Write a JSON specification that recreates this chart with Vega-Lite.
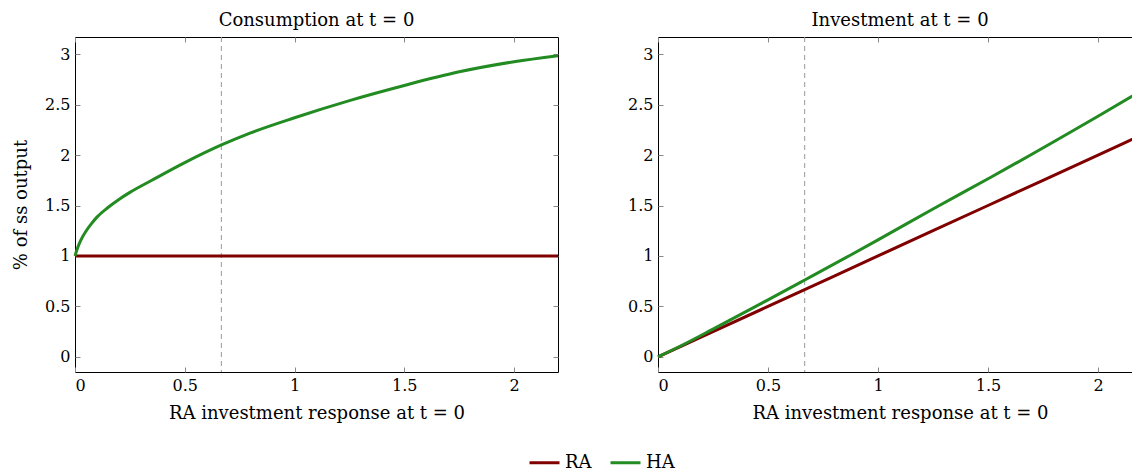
{
  "$schema": "https://vega.github.io/schema/vega-lite/v6.json",
  "padding": {"left": 12, "top": 11, "right": 0, "bottom": 0},
  "config": {
    "font": "DejaVu Serif",
    "view": {"stroke": "black", "strokeWidth": 1},
    "axis": {
      "grid": false, "domain": false, "tickColor": "#888888", "tickSize": -5,
      "labelFontSize": 16, "labelColor": "black", "labelPadding": 10,
      "titleFontSize": 18, "titleFontWeight": "normal", "titleColor": "black"
    },
    "axisX": {"titlePadding": 11},
    "axisY": {"titlePadding": 14},
    "title": {"fontSize": 18, "fontWeight": "normal", "offset": 7, "color": "black"},
    "legend": {"symbolType": "stroke", "symbolStrokeWidth": 3, "symbolSize": 900, "labelFontSize": 18, "labelColor": "black", "columnPadding": 12}
  },
  "spacing": 62,
  "resolve": {"scale": {"color": "shared"}},
  "hconcat": [
    {
      "width": 483, "height": 335,
      "title": {"text": "Consumption at t = 0"},
      "resolve": {"axis": {"x": "independent", "y": "independent"}},
      "layer": [
        {
          "data": {"values": [{"x": 0.6667}]},
          "mark": {"type": "rule", "color": "#999999", "strokeDash": [5, 4], "strokeWidth": 1},
          "encoding": {"x": {"field": "x", "type": "quantitative", "scale": {"domain": [0, 2.2], "nice": false, "zero": false}, "axis": null}}
        },
        {
          "data": {"values": [
            {"x": 0, "y": 1, "series": "RA"}, {"x": 0.5, "y": 1, "series": "RA"}, {"x": 1, "y": 1, "series": "RA"}, {"x": 1.5, "y": 1, "series": "RA"}, {"x": 2, "y": 1, "series": "RA"}, {"x": 2.2, "y": 1, "series": "RA"},
            {"x": 0, "y": 1.0, "series": "HA"}, {"x": 0.01, "y": 1.07, "series": "HA"}, {"x": 0.025, "y": 1.15, "series": "HA"}, {"x": 0.05, "y": 1.245, "series": "HA"},
            {"x": 0.075, "y": 1.32, "series": "HA"}, {"x": 0.1, "y": 1.385, "series": "HA"}, {"x": 0.15, "y": 1.48, "series": "HA"}, {"x": 0.2, "y": 1.56, "series": "HA"},
            {"x": 0.25, "y": 1.63, "series": "HA"}, {"x": 0.35, "y": 1.75, "series": "HA"}, {"x": 0.5, "y": 1.925, "series": "HA"}, {"x": 0.667, "y": 2.1, "series": "HA"},
            {"x": 0.8, "y": 2.22, "series": "HA"}, {"x": 1.0, "y": 2.37, "series": "HA"}, {"x": 1.25, "y": 2.54, "series": "HA"}, {"x": 1.5, "y": 2.69, "series": "HA"},
            {"x": 1.75, "y": 2.825, "series": "HA"}, {"x": 2.0, "y": 2.925, "series": "HA"}, {"x": 2.2, "y": 2.985, "series": "HA"}
          ]},
          "mark": {"type": "line", "strokeWidth": 3, "interpolate": "monotone"},
          "encoding": {
            "x": {"field": "x", "type": "quantitative", "scale": {"domain": [0, 2.2], "nice": false, "zero": false}, "axis": {"values": [0, 0.5, 1, 1.5, 2], "format": "~g", "title": "RA investment response at t = 0"}},
            "y": {"field": "y", "type": "quantitative", "scale": {"domain": [-0.15, 3.17], "nice": false, "zero": false}, "axis": {"values": [0, 0.5, 1, 1.5, 2, 2.5, 3], "format": "~g", "title": "% of ss output"}},
            "color": {"field": "series", "type": "nominal", "scale": {"domain": ["RA", "HA"], "range": ["#800000", "#228B22"]}, "legend": {"orient": "none", "direction": "horizontal", "title": null, "legendX": 453, "legendY": 409}}
          }
        },
        {
          "data": {"values": [{"x": 0, "y": 0}]},
          "mark": {"type": "point", "opacity": 0},
          "encoding": {
            "x": {"field": "x", "type": "quantitative", "scale": {"domain": [0, 2.2], "nice": false, "zero": false}, "axis": {"orient": "top", "values": [0, 0.5, 1, 1.5, 2], "labels": false, "title": null}},
            "y": {"field": "y", "type": "quantitative", "scale": {"domain": [-0.15, 3.17], "nice": false, "zero": false}, "axis": {"orient": "right", "values": [0, 0.5, 1, 1.5, 2, 2.5, 3], "labels": false, "title": null}}
          }
        }
      ]
    },
    {
      "width": 484, "height": 335,
      "title": {"text": "Investment at t = 0"},
      "resolve": {"axis": {"x": "independent", "y": "independent"}},
      "layer": [
        {
          "data": {"values": [{"x": 0.6667}]},
          "mark": {"type": "rule", "color": "#999999", "strokeDash": [5, 4], "strokeWidth": 1},
          "encoding": {"x": {"field": "x", "type": "quantitative", "scale": {"domain": [0, 2.2], "nice": false, "zero": false}, "axis": null}}
        },
        {
          "data": {"values": [
            {"x": 0, "y": 0, "series": "RA"}, {"x": 0.5, "y": 0.5, "series": "RA"}, {"x": 1, "y": 1, "series": "RA"}, {"x": 1.5, "y": 1.5, "series": "RA"}, {"x": 2, "y": 2, "series": "RA"}, {"x": 2.2, "y": 2.2, "series": "RA"},
            {"x": 0, "y": 0, "series": "HA"}, {"x": 0.1, "y": 0.105, "series": "HA"}, {"x": 0.25, "y": 0.275, "series": "HA"}, {"x": 0.5, "y": 0.565, "series": "HA"},
            {"x": 0.667, "y": 0.762, "series": "HA"}, {"x": 0.876, "y": 1.01, "series": "HA"}, {"x": 1.0, "y": 1.16, "series": "HA"}, {"x": 1.25, "y": 1.466, "series": "HA"},
            {"x": 1.517, "y": 1.785, "series": "HA"}, {"x": 2.0, "y": 2.385, "series": "HA"}, {"x": 2.2, "y": 2.64, "series": "HA"}
          ]},
          "mark": {"type": "line", "strokeWidth": 3, "interpolate": "monotone"},
          "encoding": {
            "x": {"field": "x", "type": "quantitative", "scale": {"domain": [0, 2.2], "nice": false, "zero": false}, "axis": {"values": [0, 0.5, 1, 1.5, 2], "format": "~g", "title": "RA investment response at t = 0"}},
            "y": {"field": "y", "type": "quantitative", "scale": {"domain": [-0.15, 3.17], "nice": false, "zero": false}, "axis": {"values": [0, 0.5, 1, 1.5, 2, 2.5, 3], "format": "~g", "title": null}},
            "color": {"field": "series", "type": "nominal", "scale": {"domain": ["RA", "HA"], "range": ["#800000", "#228B22"]}, "legend": {"orient": "none", "direction": "horizontal", "title": null, "legendX": 453, "legendY": 409}}
          }
        },
        {
          "data": {"values": [{"x": 0, "y": 0}]},
          "mark": {"type": "point", "opacity": 0},
          "encoding": {
            "x": {"field": "x", "type": "quantitative", "scale": {"domain": [0, 2.2], "nice": false, "zero": false}, "axis": {"orient": "top", "values": [0, 0.5, 1, 1.5, 2], "labels": false, "title": null}},
            "y": {"field": "y", "type": "quantitative", "scale": {"domain": [-0.15, 3.17], "nice": false, "zero": false}, "axis": {"orient": "right", "values": [0, 0.5, 1, 1.5, 2, 2.5, 3], "labels": false, "title": null}}
          }
        }
      ]
    }
  ]
}
